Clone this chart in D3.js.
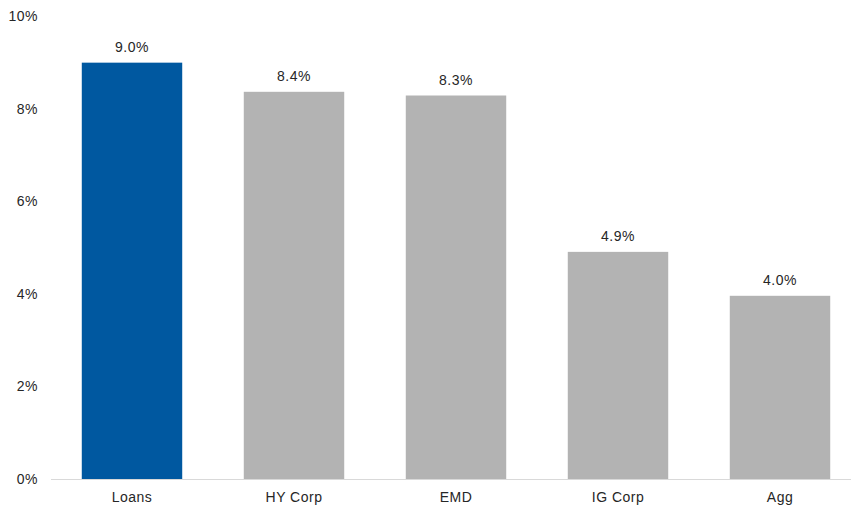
<!DOCTYPE html>
<html>
<head>
    <meta charset="utf-8">
    <script src="https://d3js.org/d3.v7.min.js"></script>
    <style>
        * { margin: 0; padding: 0; }
        body { background: #fff; }
        text { font-family: "Liberation Sans", Arial, sans-serif; fill: #262626; }
    </style>
</head>
<body>
    <div id="chart"></div>
<script>
    // data
    let categories = ["Loans", "HY Corp", "EMD", "IG Corp", "Agg"];
    let values = [9.0, 8.37, 8.29, 4.91, 3.96];
    let yTicks = [0, 2, 4, 6, 8, 10];
    let highlight = "Loans";

    let W = 851, H = 510;
    let margin = { top: 16, left: 51, bottom: 31 };
    let fontSize = "14px", spacing = "0.5px";

    let svg = d3.select("#chart").append("svg")
        .attr("width", W)
        .attr("height", H);

    let x = d3.scaleBand()
        .domain(categories)
        .range([margin.left, margin.left + 810])
        .paddingInner(0.38)
        .paddingOuter(0.19);

    let y = d3.scaleLinear()
        .domain([0, 10])
        .range([H - margin.bottom, margin.top + 0.4]);

    let data = categories.map((c, i) => ({ cat: c, val: values[i] }));

    // y tick labels, no axis line
    svg.append("g")
        .selectAll("text")
        .data(yTicks)
        .enter()
        .append("text")
        .attr("x", 38)
        .attr("y", d => y(d))
        .attr("dy", "0.35em")
        .attr("text-anchor", "end")
        .style("font-size", fontSize)
        .style("letter-spacing", spacing)
        .text(d => d + "%");

    svg.selectAll("rect.bar")
        .data(data)
        .enter()
        .append("rect")
        .attr("class", "bar")
        .attr("x", d => x(d.cat))
        .attr("y", d => y(d.val))
        .attr("width", x.bandwidth())
        .attr("height", d => y(0) - y(d.val))
        .attr("fill", d => d.cat == highlight ? "#0058a0" : "#b3b3b3");

    // baseline
    svg.append("line")
        .attr("x1", margin.left)
        .attr("x2", W)
        .attr("y1", y(0) + 0.5)
        .attr("y2", y(0) + 0.5)
        .attr("stroke", "#d9d9d9")
        .attr("stroke-width", 1);

    svg.selectAll("text.val")
        .data(data)
        .enter()
        .append("text")
        .attr("class", "val")
        .attr("x", d => x(d.cat) + x.bandwidth() / 2)
        .attr("y", d => y(d.val) - 10.5)
        .attr("text-anchor", "middle")
        .style("font-size", fontSize)
        .style("letter-spacing", spacing)
        .text(d => d.val.toFixed(1) + "%");

    let xAxis = d3.axisBottom(x).tickSize(0).tickPadding(13.5);
    let gx = svg.append("g")
        .attr("transform", "translate(0," + y(0) + ")")
        .call(xAxis);
    gx.select(".domain").remove();
    gx.selectAll("text")
        .style("font-size", fontSize)
        .style("letter-spacing", spacing)
        .style("font-family", "Liberation Sans, Arial, sans-serif")
        .attr("fill", "#262626");
</script>
</body>
</html>
